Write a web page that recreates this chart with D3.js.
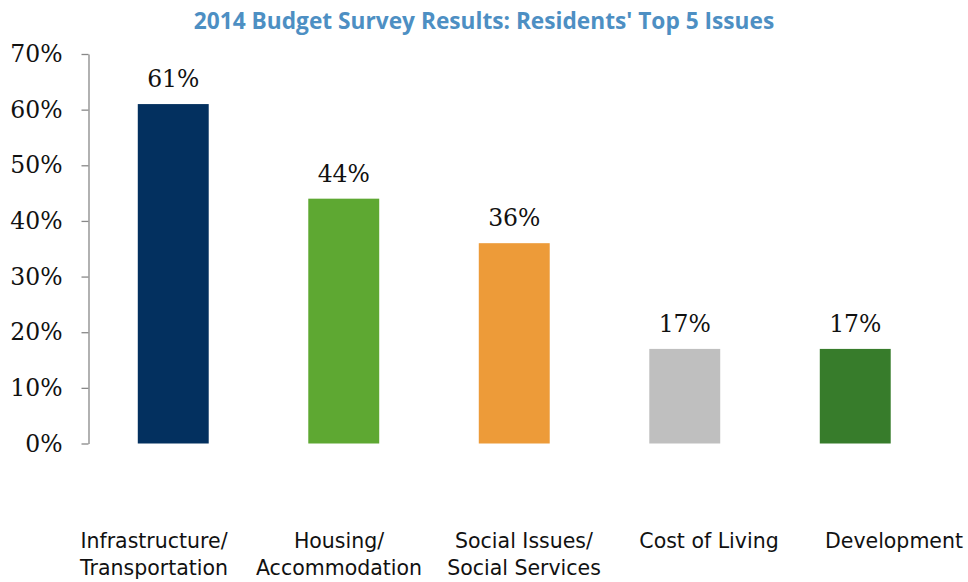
<!DOCTYPE html>
<html>
<head>
<meta charset="utf-8">
<script src="https://cdn.jsdelivr.net/npm/d3@7"></script>
<style>
  html, body { margin: 0; padding: 0; background: #fff; }
  svg { display: block; }
</style>
</head>
<body>
<svg id="chart" width="968" height="582"></svg>
<script>
// Survey results: share of residents naming each issue among their top 5
const categories = [
  ["Infrastructure/", "Transportation"],
  ["Housing/", "Accommodation"],
  ["Social Issues/", "Social Services"],
  ["Cost of Living"],
  ["Development"]
];
const values = [0.61, 0.44, 0.36, 0.17, 0.17];
const barColors = ["#03305f", "#5ea832", "#ed9b39", "#bfbfbf", "#377c2b"];
const yTicks = [0, 0.1, 0.2, 0.3, 0.4, 0.5, 0.6, 0.7];
const titleText = "2014 Budget Survey Results: Residents' Top 5 Issues";

const keys = categories.map(c => c.join(" "));
const svg = d3.select("#chart");

const serif = "'DejaVu Serif', 'Liberation Serif', serif";
const sans = "'DejaVu Sans', sans-serif";

const x = d3.scaleBand()
  .domain(keys)
  .range([88, 940.5])
  .paddingInner(0.584)
  .paddingOuter(0.292);

const y = d3.scaleLinear()
  .domain([0, 0.7])
  .range([443.5, 54]);

// Category labels sit on their own, slightly wider, spacing
const labelX = d3.scalePoint()
  .domain(keys)
  .range([154, 894]);

// Title
svg.append("text")
  .attr("x", 484)
  .attr("y", 29)
  .attr("text-anchor", "middle")
  .attr("font-family", "'Open Sans', sans-serif")
  .attr("font-weight", "bold")
  .attr("font-size", 22.7)
  .attr("fill", "#4d8fc3")
  .text(titleText);

// Y axis
const yAxis = d3.axisLeft(y)
  .tickValues(yTicks)
  .tickFormat(d3.format(".0%"))
  .tickSize(7)
  .tickSizeOuter(0)
  .tickPadding(19);

const gy = svg.append("g")
  .attr("transform", "translate(88.5,0)")
  .call(yAxis);
gy.select(".domain").attr("stroke", "#888").attr("stroke-width", 1.3);
gy.selectAll(".tick line").attr("stroke", "#888").attr("stroke-width", 1.3);
gy.selectAll(".tick text")
  .attr("font-family", serif)
  .attr("font-size", 23.5)
  .attr("fill", "#111");

// Bars
svg.append("g").selectAll("rect")
  .data(values)
  .join("rect")
  .attr("x", (d, i) => x(keys[i]))
  .attr("y", d => y(d))
  .attr("width", x.bandwidth())
  .attr("height", d => y(0) - y(d))
  .attr("fill", (d, i) => barColors[i]);

// Value labels
svg.append("g").selectAll("text")
  .data(values)
  .join("text")
  .attr("x", (d, i) => x(keys[i]) + x.bandwidth() / 2)
  .attr("y", d => y(d) - 17)
  .attr("text-anchor", "middle")
  .attr("font-family", serif)
  .attr("font-size", 23.5)
  .attr("fill", "#111")
  .text(d => d3.format(".0%")(d));

// Category labels
const cat = svg.append("g").selectAll("text")
  .data(categories)
  .join("text")
  .attr("x", (d, i) => labelX(keys[i]))
  .attr("y", 548)
  .attr("text-anchor", "middle")
  .attr("font-family", sans)
  .attr("font-size", 20.5)
  .attr("fill", "#111");
cat.selectAll("tspan")
  .data(d => d)
  .join("tspan")
  .attr("x", function () { return this.parentNode.getAttribute("x"); })
  .attr("dy", (d, j) => j === 0 ? 0 : 27)
  .text(d => d);
</script>
</body>
</html>
